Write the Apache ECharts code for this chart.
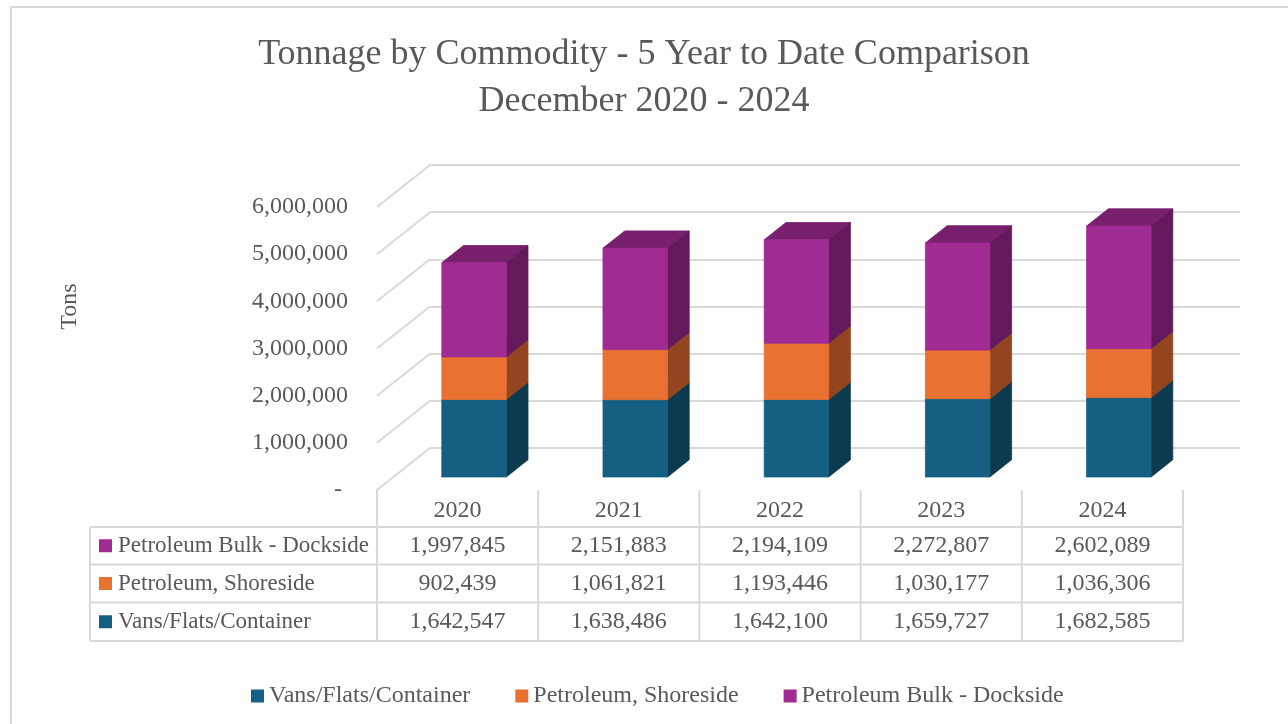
<!DOCTYPE html>
<html>
<head>
<meta charset="utf-8">
<title>Tonnage by Commodity</title>
<script src="https://cdn.jsdelivr.net/npm/echarts@6/dist/echarts.min.js"></script>
<style>
  html, body { margin: 0; padding: 0; background: #fff; }
  #chart { width: 1288px; height: 724px; }
</style>
</head>
<body>
<div id="chart"></div>
<script>
// data
const years = ["2020", "2021", "2022", "2023", "2024"];
const seriesNames = ["Vans/Flats/Container", "Petroleum, Shoreside", "Petroleum Bulk - Dockside"];
const vans = [1642547, 1638486, 1642100, 1659727, 1682585];
const shoreside = [902439, 1061821, 1193446, 1030177, 1036306];
const dockside = [1997845, 2151883, 2194109, 2272807, 2602089];
const yTicks = [0, 1000000, 2000000, 3000000, 4000000, 5000000, 6000000];

const stackValues = [vans, shoreside, dockside];
const frontColors = ["#156082", "#e97132", "#a02b93"];
const sideColors = ["#0c3b50", "#934520", "#63195b"];
const topColors = ["#104a64", "#b8592a", "#781f6d"];

const FONT = '"Liberation Serif", "Times New Roman", serif';
const TEXT = "#595959";
const LINE = "#d9d9d9";

// 3d box layout: front floor plane and back wall
const front = { left: 377, top: 207, width: 806, height: 283 };
const back = { left: 430, top: 165, width: 810, height: 283 };
const DX = back.left - front.left;                               // depth vector x
const DY = (back.top + back.height) - (front.top + front.height); // depth vector y
const BAR_RATIO = 0.4;
const DEPTH_START = 0.31, DEPTH_END = 0.72;

var chart = echarts.init(document.getElementById("chart"));

function fmt(v) {
  return v === 0 ? "- " : v.toLocaleString("en-US");
}

function face(type, shape, color) {
  // stroke in the same colour hides hairline seams between faces
  return { type: type, shape: shape, style: { fill: color, stroke: color, lineWidth: 0.8 } };
}

function barRenderer(s) {
  return function (params, api) {
    var i = api.value(0);
    var val = api.value(1);
    var base = 0;
    for (var k = 0; k < s; k++) base += stackValues[k][i];
    var p0 = api.coord([i, base]);
    var p1 = api.coord([i, base + val]);
    var w = api.size([1, 0])[0] * BAR_RATIO;
    var L = p0[0] - w / 2 + DX * DEPTH_START;
    var R = L + w;
    var yb = p0[1] + DY * DEPTH_START;
    var yt = p1[1] + DY * DEPTH_START;
    var sx = DX * (DEPTH_END - DEPTH_START);
    var sy = DY * (DEPTH_END - DEPTH_START);
    return {
      type: "group",
      children: [
        face("polygon", { points: [[L, yt], [R, yt], [R + sx, yt + sy], [L + sx, yt + sy]] }, topColors[s]),
        face("polygon", { points: [[R, yb], [R, yt], [R + sx, yt + sy], [R + sx, yb + sy]] }, sideColors[s]),
        face("rect", { x: L, y: yt, width: w, height: yb - yt }, frontColors[s])
      ]
    };
  };
}

// data table below the floor
const tableLeft = 90;
const headTop = front.top + front.height;
const rowLines = [527, 564.5, 602.5, 641];
const colW = front.width / years.length;
const tableRight = front.left + front.width;

var graphics = [
  { type: "rect", silent: true,
    shape: { x: 11, y: 7, width: 1320, height: 760 },
    style: { fill: null, stroke: LINE, lineWidth: 2 } }
];
rowLines.forEach(function (y) {
  graphics.push({ type: "line", silent: true,
    shape: { x1: tableLeft, y1: y, x2: tableRight, y2: y },
    style: { stroke: LINE, lineWidth: 2 } });
});
graphics.push({ type: "line", silent: true,
  shape: { x1: tableLeft, y1: rowLines[0], x2: tableLeft, y2: rowLines[3] },
  style: { stroke: LINE, lineWidth: 2 } });
for (var c = 0; c <= years.length; c++) {
  graphics.push({ type: "line", silent: true,
    shape: { x1: front.left + c * colW, y1: headTop, x2: front.left + c * colW, y2: rowLines[3] },
    style: { stroke: LINE, lineWidth: 2 } });
}
years.forEach(function (y, i) {
  graphics.push({ type: "text", silent: true,
    x: front.left + (i + 0.5) * colW, y: (headTop + rowLines[0]) / 2 + 2,
    style: { text: y, font: "24px " + FONT, fill: TEXT, align: "center", verticalAlign: "middle" } });
});
// rows are listed top series first
[2, 1, 0].forEach(function (s, r) {
  var cy = (rowLines[r] + rowLines[r + 1]) / 2;
  graphics.push({ type: "rect", silent: true,
    shape: { x: 99, y: cy - 6.5, width: 13, height: 13 },
    style: { fill: frontColors[s] } });
  graphics.push({ type: "text", silent: true, x: 118, y: cy,
    style: { text: seriesNames[s], font: "23px " + FONT, fill: TEXT, align: "left", verticalAlign: "middle" } });
  stackValues[s].forEach(function (v, i) {
    graphics.push({ type: "text", silent: true,
      x: front.left + (i + 0.5) * colW, y: cy,
      style: { text: fmt(v), font: "24px " + FONT, fill: TEXT, align: "center", verticalAlign: "middle" } });
  });
});

var series = stackValues.map(function (vals, s) {
  return {
    name: seriesNames[s],
    type: "custom",
    xAxisIndex: 0,
    yAxisIndex: 0,
    renderItem: barRenderer(s),
    itemStyle: { color: frontColors[s] },
    data: vals.map(function (v, i) { return [i, v]; }),
    z: 3
  };
});

// diagonal lines on the left wall
series.push({
  type: "custom",
  xAxisIndex: 1,
  yAxisIndex: 1,
  silent: true,
  z: 1,
  renderItem: function (params, api) {
    var p = api.coord([0, api.value(0)]);
    var x = params.coordSys.x;
    return { type: "line", shape: { x1: x, y1: p[1], x2: x - DX, y2: p[1] - DY },
      style: { stroke: LINE, lineWidth: 2 } };
  },
  data: yTicks.map(function (v) { return [v]; }),
  encode: { y: 0 }
});

let option = {
  animation: false,
  backgroundColor: "#fff",
  title: {
    text: "Tonnage by Commodity - 5 Year to Date Comparison\nDecember 2020 - 2024",
    left: "center",
    top: 26,
    textStyle: { fontFamily: FONT, fontSize: 36, fontWeight: "normal", color: TEXT, lineHeight: 47 }
  },
  legend: {
    data: seriesNames,
    left: 246,
    top: 679,
    icon: "rect",
    itemWidth: 13,
    itemHeight: 13,
    itemGap: 45,
    textStyle: { fontFamily: FONT, fontSize: 24, color: TEXT }
  },
  grid: [
    { left: front.left, top: front.top, width: front.width, height: front.height },
    { left: back.left, top: back.top, width: back.width, height: back.height }
  ],
  xAxis: [
    { type: "category", gridIndex: 0, data: years, axisLine: { show: false },
      axisTick: { show: false }, axisLabel: { show: false } },
    { type: "category", gridIndex: 1, data: years, show: false }
  ],
  yAxis: [
    { type: "value", gridIndex: 0, min: 0, max: 6000000, interval: 1000000,
      axisLine: { show: false }, axisTick: { show: false }, splitLine: { show: false },
      axisLabel: { formatter: fmt, margin: 29, fontFamily: FONT, fontSize: 24, color: TEXT } },
    { type: "value", gridIndex: 1, min: 0, max: 6000000, interval: 1000000,
      name: "Tons", nameLocation: "middle", nameRotate: 90, nameGap: back.left - 82,
      nameTextStyle: { fontFamily: FONT, fontSize: 24, color: TEXT },
      axisLine: { show: false }, axisTick: { show: false }, axisLabel: { show: false },
      splitLine: { show: true, lineStyle: { color: LINE, width: 2 } } }
  ],
  graphic: graphics,
  series: series
};

chart.setOption(option);
</script>
</body>
</html>
